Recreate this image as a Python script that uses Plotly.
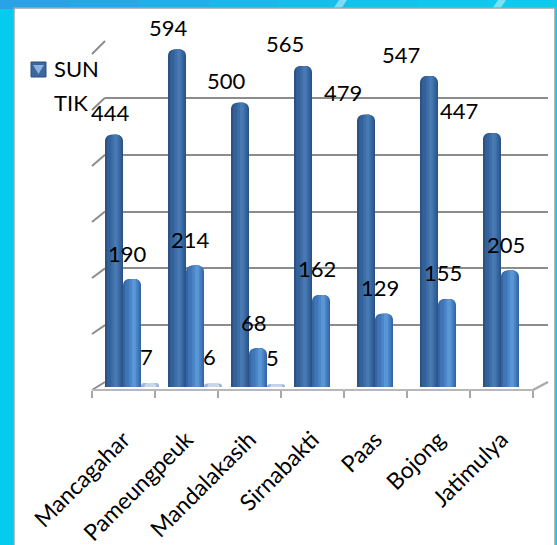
import plotly.graph_objects as go

# ---- data -------------------------------------------------------------
categories = ["Mancagahar", "Pameungpeuk", "Mandalakasih", "Sirnabakti",
              "Paas", "Bojong", "Jatimulya"]
sun = [444, 594, 500, 565, 479, 547, 447]
tik = [190, 214, 68, 162, 129, 155, 205]
lain = [7, 6, 5, None, None, None, None]
grid_ticks = [0, 100, 200, 300, 400, 500, 600]

# ---- page geometry (pixels) -----------------------------------------
W, H = 557, 545
FRONT_L, FRONT_R, FRONT_Y = 92, 533, 390      # front edge of the floor
BACK_L, BACK_R = 105, 548                     # back wall horizontal extent
BACK_BASE, BACK_TOP = 382, 41                 # back wall: 0 and 600
BAR_BASE = 387                                # bars stand mid-depth
VMAX = 600
SCALE = (BACK_BASE - BACK_TOP) / VMAX         # pixels per unit
CAT_PX = (FRONT_R - FRONT_L) / len(categories)
BAR_PX = 18
FONT = "Lato"


def fx(p):
    return p / W


def fy(p):
    return 1 - p / H


fig = go.Figure()

# invisible trace so the back-wall subplot (x/y) exists for its gridlines
fig.add_trace(go.Scatter(x=[None], y=[None], xaxis="x", yaxis="y",
                         showlegend=False, hoverinfo="skip"))

# cylinder-like bars: a dark body with lighter bands layered on top
series = [
    ("SUN", sun, -18.5, [(0.0, 1.0, "#2b5283"), (0.12, 0.92, "#33619a"),
                         (0.35, 0.80, "#3d6ea8"), (0.50, 0.70, "#4879b3")]),
    ("TIK", tik, -0.5, [(0.0, 1.0, "#3566a3"), (0.12, 0.92, "#3f76b8"),
                        (0.35, 0.82, "#4b86c8"), (0.50, 0.72, "#5a96d6")]),
    ("LAIN", lain, 17.5, [(0.0, 1.0, "#9fb5d6"), (0.20, 0.85, "#c9d6ec")]),
]

for name, vals, left_px, layers in series:
    for a, b, color in layers:
        fig.add_trace(go.Bar(
            x=categories, y=vals, name=name, xaxis="x2", yaxis="y2",
            offset=(left_px + a * BAR_PX) / CAT_PX,
            width=(b - a) * BAR_PX / CAT_PX,
            marker=dict(color=color, line=dict(width=0), cornerradius="35%"),
            showlegend=False, hoverinfo="skip",
        ))

# value labels
annotations = []
label_font = dict(family=FONT, size=22, color="#000000")
for i, (c, v) in enumerate(zip(categories, sun)):
    annotations.append(dict(x=c, y=v, xref="x2", yref="y2", text=str(v),
                            showarrow=False, xanchor="center",
                            xshift=-13 - 5 * i, yshift=22, font=label_font))
for c, v in zip(categories, tik):
    annotations.append(dict(x=c, y=v, xref="x2", yref="y2", text=str(v),
                            showarrow=False, xanchor="center",
                            xshift=4, yshift=26, font=label_font))
for c, v in zip(categories, lain):
    if v is None:
        continue
    annotations.append(dict(x=c, y=v, xref="x2", yref="y2", text=str(v),
                            showarrow=False, xanchor="center",
                            xshift=23, yshift=27, font=label_font))

# legend text
legend_font = dict(family=FONT, size=22, color="#000000")
annotations.append(dict(x=fx(52), y=fy(68), xref="paper", yref="paper",
                        text="SUN", showarrow=False, xanchor="left",
                        yanchor="middle", font=legend_font))
annotations.append(dict(x=fx(52), y=fy(102), xref="paper", yref="paper",
                        text="TIK", showarrow=False, xanchor="left",
                        yanchor="middle", font=legend_font))

shapes = []

# blue page background strips
top_cols = ["#2aa2e6", "#24a8e7", "#1eb0e9", "#18b8ea", "#12c0eb",
            "#0ec6ec", "#0cc9ed", "#0bcbee"]
seg = W / len(top_cols)
for k, col in enumerate(top_cols):
    shapes.append(dict(type="rect", xref="paper", yref="paper",
                       x0=fx(k * seg), x1=fx((k + 1) * seg + 1),
                       y0=fy(9), y1=1, fillcolor=col, line=dict(width=0),
                       layer="below"))
for sx in (333, 492):
    shapes.append(dict(type="path", xref="paper", yref="paper",
                       path=(f"M{fx(sx)},{fy(9)} L{fx(sx + 8)},{fy(9)} "
                             f"L{fx(sx + 14)},1 L{fx(sx + 6)},1 Z"),
                       fillcolor="rgba(255,255,255,0.45)", line=dict(width=0),
                       layer="below"))

# white chart panel
shapes.append(dict(type="rect", xref="paper", yref="paper",
                   x0=fx(14), x1=fx(555), y0=fy(548), y1=fy(8),
                   fillcolor="#ffffff", line=dict(color="#a3a3a3", width=1.5),
                   layer="below"))


def back_y(v):
    return BACK_BASE - v * SCALE


# left wall stubs joining the front edge to each back-wall gridline
for v in grid_ticks:
    dy = 8 + 5 * v / VMAX
    shapes.append(dict(type="line", xref="paper", yref="paper",
                       x0=fx(FRONT_L), y0=fy(back_y(v) + dy),
                       x1=fx(BACK_L), y1=fy(back_y(v)),
                       line=dict(color="#8c8c8c", width=2), layer="below"))

# right edge of the floor
shapes.append(dict(type="line", xref="paper", yref="paper",
                   x0=fx(FRONT_R), y0=fy(FRONT_Y), x1=fx(BACK_R),
                   y1=fy(BACK_BASE), line=dict(color="#a8a8a8", width=2),
                   layer="below"))

# legend symbol for SUN
shapes.append(dict(type="rect", xref="paper", yref="paper",
                   x0=fx(31), x1=fx(46), y0=fy(77), y1=fy(62),
                   fillcolor="#3a679f", line=dict(color="#2a4f80", width=1)))
shapes.append(dict(type="path", xref="paper", yref="paper",
                   path=(f"M{fx(33)},{fy(65)} L{fx(44)},{fy(65)} "
                         f"L{fx(38.5)},{fy(74)} Z"),
                   fillcolor="#8fb1de", line=dict(width=0)))

fig.update_layout(
    width=W, height=H,
    margin=dict(l=0, r=0, t=0, b=0, autoexpand=False),
    paper_bgcolor="#06cbee",
    plot_bgcolor="rgba(0,0,0,0)",
    barmode="overlay",
    showlegend=False,
    font=dict(family=FONT, color="#000000"),
    xaxis=dict(domain=[fx(BACK_L), fx(BACK_R)], range=[0, 1], anchor="y",
               visible=False, fixedrange=True),
    yaxis=dict(domain=[fy(BACK_BASE), fy(BACK_TOP)], range=[0, VMAX],
               anchor="x", tickvals=grid_ticks, showgrid=True,
               gridcolor="#8c8c8c", gridwidth=2, zeroline=False,
               showline=False, showticklabels=False, ticks="",
               fixedrange=True),
    xaxis2=dict(domain=[fx(FRONT_L), fx(FRONT_R)], anchor="free",
                position=fy(FRONT_Y), type="category",
                categoryorder="array", categoryarray=categories,
                range=[-0.5, len(categories) - 0.5],
                showline=True, linecolor="#b8b8b8", linewidth=2,
                ticks="outside", tickson="boundaries", ticklen=7,
                tickwidth=2, tickcolor="#a8a8a8", tickangle=-45,
                ticklabelstandoff=26,
                tickfont=dict(family=FONT, size=23, color="#000000"),
                showgrid=False, zeroline=False, fixedrange=True,
                automargin=False),
    yaxis2=dict(domain=[fy(BAR_BASE), fy(BAR_BASE - VMAX * SCALE)],
                range=[0, VMAX], anchor="x2", visible=False,
                fixedrange=True),
    annotations=annotations,
    shapes=shapes,
)

fig.write_html("out.html")
